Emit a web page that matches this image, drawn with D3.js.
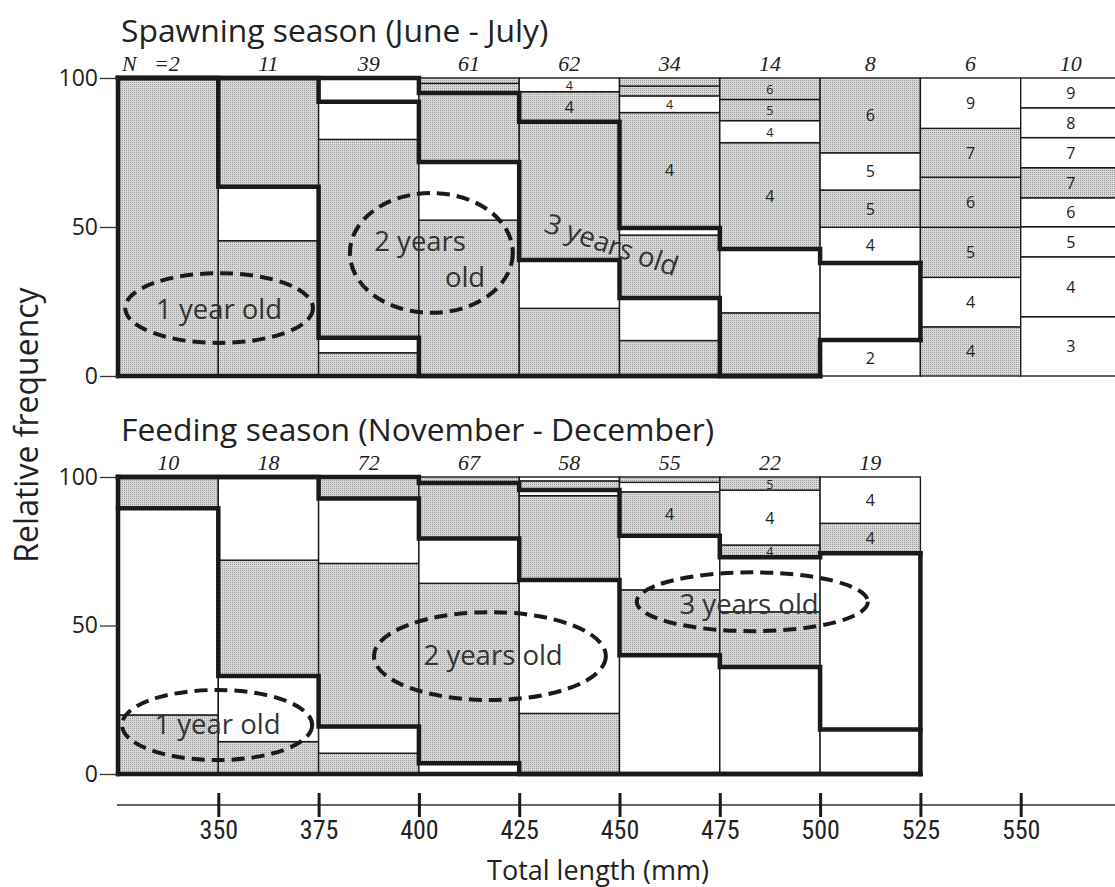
<!DOCTYPE html>
<html><head><meta charset="utf-8">
<script src="https://cdn.jsdelivr.net/npm/d3@7"></script>
<style>body{margin:0;background:#fff} svg{display:block}</style>
</head><body><svg id="chart" width="1115" height="887"></svg>
<script>
// ---------- DATA ----------
const lengthClasses = [325,350,375,400,425,450,475,500,525,550]; // lower bound of each 25 mm class
const classWidth = 25;
const xTicks = [350,375,400,425,450,475,500,525,550];
const yTicks = [0,50,100];

// Spawning season (June - July)
const spawningN = [2,11,39,61,62,34,14,8,6,10];
const spawningTops = [
  [100],
  [45.4,63.5,100],
  [7.8,12.8,79.4,92,100],
  [52.3,71.8,95,98.2,100],
  [22.7,38.9,85.3,95.4,100],
  [11.9,26.2,47.3,49.7,88.4,94,97.3,100],
  [21.2,42.6,78.3,85.7,92.8,100],
  [12.1,37.9,49.9,62.4,74.9,100],
  [16.5,33.1,49.9,66.7,83.1,100],
  [19.9,40,50.1,59.8,69.9,80,90,100]
];
const spawningShade = ["g","gwg","gwgww","gwggg","gwggw","gwgwgwgg","gwgwgg","wwwgwg","gwgggw","wwwwgwww"];
const spawningLabels = [
  [""],["","",""],["","","","",""],["","","","",""],
  ["","","","4","4"],
  ["","","","","4","4","",""],
  ["","","4","4","5","6"],
  ["2","","4","5","5","6"],
  ["4","4","5","6","7","9"],
  ["3","4","5","6","7","7","8","9"]
];
const spawningAge1 = [100,63.5,12.8,0,0,0,0];
const spawningAge2 = [100,100,92,71.8,38.9,26.2,0,12.1];
const spawningAge3 = [100,100,100,95,85.3,49.7,42.6,37.9];
const spawningClose = [12.1,37.9];

// Feeding season (November - December)
const feedingN = [10,18,72,67,58,55,22,19];
const feedingTops = [
  [19.9,89.5,100],
  [10.9,33,72,100],
  [7,16,70.9,92.8,100],
  [3.6,64.2,79.3,98,100],
  [20.4,65.3,93.7,95.6,98.7,100],
  [40,62,80.2,95,98.2,100],
  [36,54.6,73,77.1,95.6,100],
  [15,74.3,84.4,100]
];
const feedingShade = ["gwg","gwgw","gwgwg","wgwgg","gwgwgw","wgwgwg","wgwgwg","wwgw"];
const feedingLabels = [
  ["","",""],["","","",""],["","","","",""],["","","","",""],
  ["","","","","",""],
  ["","","","4","",""],
  ["","","","4","4","5"],
  ["","","4","4"]
];
const feedingAge1 = [89.5,33,16,3.6,0,0,0,0];
const feedingAge2 = [100,100,92.8,79.3,65.3,40,36,15];
const feedingAge3 = [100,100,100,98,95.6,80.2,73,74.3];
const feedingClose = [0,74.3];

// age-group annotations (data units: mm, %)
const spawningEllipses = [{cx:350.2,cy:22.8,rx:23.4,ry:11.7},{cx:403.1,cy:41.3,rx:20.3,ry:20.1}];
const spawningNotes = [
  {t:"1 year old",x:350.2,y:22.8,r:0},
  {t:"2 years",x:400.3,y:45.4,r:0},
  {t:"old",x:411.5,y:33.4,r:0},
  {t:"3 years old",x:448.1,y:44.3,r:19}
];
const feedingEllipses = [{cx:349.7,cy:16.5,rx:23.7,ry:11.8},{cx:417.7,cy:39.7,rx:28.9,ry:14.8},{cx:483.1,cy:58,rx:28.8,ry:9.9}];
const feedingNotes = [
  {t:"1 year old",x:349.8,y:17,r:0},
  {t:"2 years old",x:418.5,y:40.3,r:0},
  {t:"3 years old",x:482.3,y:57.5,r:0}
];

// ---------- DRAWING ----------
const svg = d3.select("#chart");
const SANS = "'Open Sans','Noto Sans',sans-serif";
const defs = svg.append("defs");
const pat = defs.append("pattern").attr("id","stip").attr("patternUnits","userSpaceOnUse").attr("width",2).attr("height",2);
pat.append("rect").attr("width",2).attr("height",2).attr("fill","#d8d8d8");
pat.append("rect").attr("width",1).attr("height",1).attr("fill","#9c9c9c");

const x = d3.scaleLinear().domain([325,575]).range([118,1121]);

function stepPath(vals, y){
  let d = `M${x(lengthClasses[0])},${y(vals[0])}`;
  vals.forEach((v,i)=>{
    d += `H${x(lengthClasses[i]+classWidth)}`;
    if(i+1<vals.length) d += `V${y(vals[i+1])}`;
  });
  return d;
}

function panel(o){
  const y = d3.scaleLinear().domain([0,100]).range([o.y0,o.y100]);
  const g = svg.append("g");
  // title
  svg.append("text").attr("x",121).attr("y",o.y100-36).attr("font-family",SANS)
    .attr("font-size",31.8).attr("fill","#222").text(o.title);
  // segments
  o.tops.forEach((tops,ci)=>{
    const x0 = lengthClasses[ci], x1 = x0+classWidth;
    let lo = 0;
    tops.forEach((hi,si)=>{
      const sh = o.shade[ci][si];
      g.append("rect").attr("x",x(x0)).attr("width",x(x1)-x(x0))
        .attr("y",y(hi)).attr("height",y(lo)-y(hi))
        .attr("fill",sh==="g"?"url(#stip)":"#fff")
        .attr("stroke","#1a1a1a").attr("stroke-width",1.4);
      const lab = o.labels[ci][si];
      if(lab) g.append("text").attr("x",x((x0+x1)/2)).attr("y",y((lo+hi)/2)+((hi-lo)<8?0.5:0))
        .attr("text-anchor","middle").attr("dominant-baseline","central")
        .attr("font-family",SANS).attr("font-size",(hi-lo)<8?12.5:16).attr("fill","#222").text(lab);
      lo = hi;
    });
  });
  // thick age boundaries
  const thick = s=>s.attr("fill","none").attr("stroke","#1a1a1a").attr("stroke-width",4.5).attr("stroke-linejoin","miter").attr("stroke-linecap","square");
  [o.age1,o.age2,o.age3].forEach(a=>thick(g.append("path").attr("d",stepPath(a,y))));
  const xc = x(lengthClasses[o.age3.length-1]+classWidth);
  thick(g.append("path").attr("d",`M${xc},${y(o.close[0])}V${y(o.close[1])}`));
  thick(g.append("path").attr("d",`M${x(325)},${y(0)}V${y(100)}`));
  thick(g.append("path").attr("d",`M${x(325)},${y(0)}H${x(lengthClasses[o.baseCols-1]+classWidth)}`));
  // N labels
  const SERIF = "'Liberation Serif','DejaVu Serif',serif";
  o.n.forEach((n,i)=>{
    const cx = x(lengthClasses[i]+classWidth/2);
    const t = svg.append("text").attr("y",o.y100-7).attr("font-family",SERIF)
      .attr("font-style","italic").attr("font-size",22).attr("fill","#222");
    if(i===0 && o.showN){
      svg.append("text").attr("x",122).attr("y",o.y100-7).attr("font-family",SERIF)
        .attr("font-style","italic").attr("font-size",22).attr("fill","#222").text("N");
      t.attr("x",154).text("=" + n);
    } else t.attr("x",cx).attr("text-anchor","middle").text(n);
  });
  // y axis
  const ax = svg.append("g").attr("transform",`translate(118,0)`)
    .call(d3.axisLeft(y).tickValues(yTicks).tickSize(18).tickPadding(2).tickFormat(d3.format("d")));
  ax.select(".domain").remove();
  ax.selectAll(".tick line").attr("stroke","#333").attr("stroke-width",1.3);
  ax.selectAll(".tick text").attr("font-family",SANS).attr("font-size",23).attr("fill","#222");
  // ellipses and notes
  o.ellipses.forEach(e=>{
    svg.append("ellipse").attr("cx",x(e.cx)).attr("cy",y(e.cy))
      .attr("rx",x(e.cx+e.rx)-x(e.cx)).attr("ry",y(0)-y(e.ry))
      .attr("fill","none").attr("stroke","#1a1a1a").attr("stroke-width",4).attr("stroke-dasharray","13,7");
  });
  o.notes.forEach(nt=>{
    svg.append("text").attr("x",x(nt.x)).attr("y",y(nt.y)).attr("text-anchor","middle")
      .attr("dominant-baseline","central").attr("font-family",SANS).attr("font-size",27.5).attr("fill","#333")
      .attr("transform",`rotate(${nt.r},${x(nt.x)},${y(nt.y)})`).text(nt.t);
  });
}

panel({title:"Spawning season (June - July)", y0:376, y100:78, n:spawningN, showN:true,
  tops:spawningTops, shade:spawningShade, labels:spawningLabels,
  age1:spawningAge1, age2:spawningAge2, age3:spawningAge3, close:spawningClose, baseCols:7,
  ellipses:spawningEllipses, notes:spawningNotes});
panel({title:"Feeding season (November - December)", y0:774, y100:477, n:feedingN, showN:false,
  tops:feedingTops, shade:feedingShade, labels:feedingLabels,
  age1:feedingAge1, age2:feedingAge2, age3:feedingAge3, close:feedingClose, baseCols:8,
  ellipses:feedingEllipses, notes:feedingNotes});

// y axis title
svg.append("text").attr("transform","translate(38,425) rotate(-90)").attr("text-anchor","middle")
  .attr("font-family",SANS).attr("font-size",32).attr("fill","#222").text("Relative frequency");

// x axis
const xa = svg.append("g").attr("transform","translate(0,805)")
  .call(d3.axisBottom(x).tickValues(xTicks).tickSize(12).tickPadding(4).tickFormat(d3.format("d")));
xa.select(".domain").attr("d",`M117,0H1115`).attr("stroke","#333").attr("stroke-width",1.5);
xa.selectAll(".tick line").attr("y1",-12).attr("y2",12).attr("stroke","#1a1a1a").attr("stroke-width",3);
xa.selectAll(".tick text").attr("font-family","'Liberation Sans Narrow','Roboto Condensed',"+SANS).attr("font-size",26).attr("fill","#222");
svg.append("text").attr("x",598).attr("y",880).attr("text-anchor","middle")
  .attr("font-family",SANS).attr("font-size",27).attr("fill","#222").text("Total length (mm)");
</script></body></html>
